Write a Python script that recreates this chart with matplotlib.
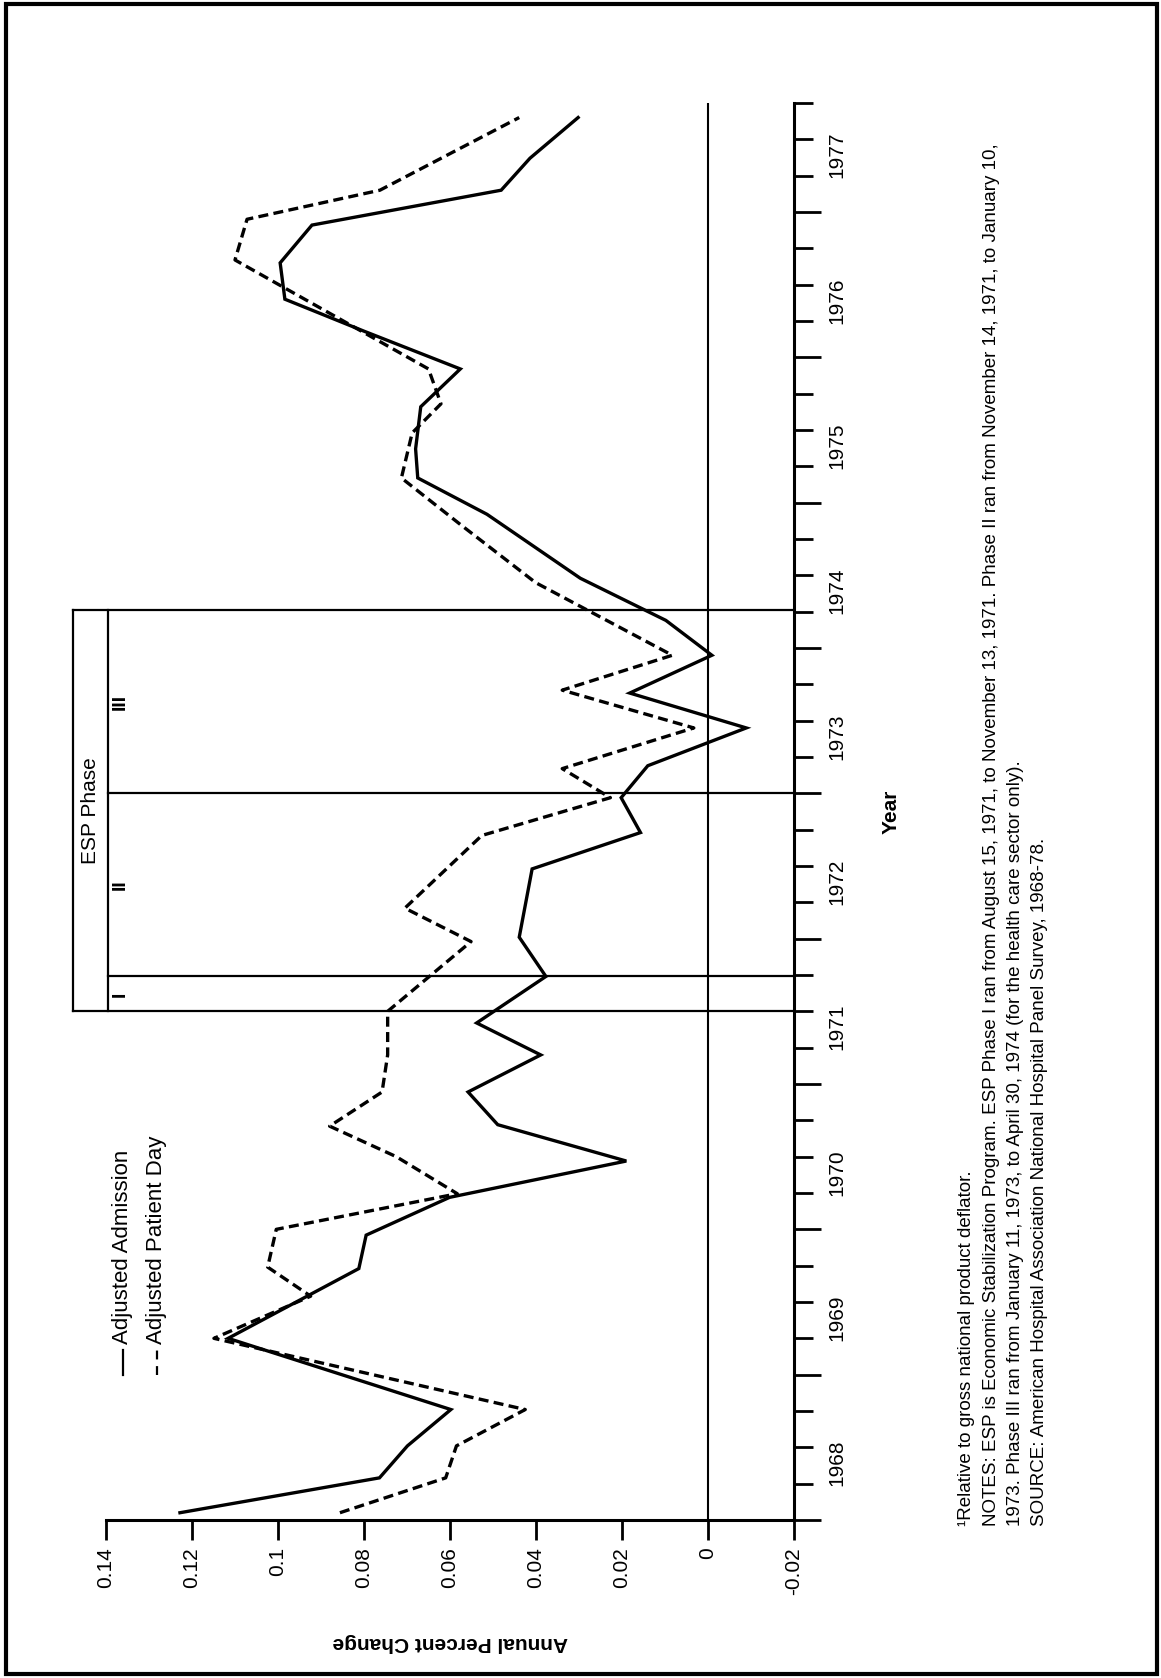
import matplotlib
matplotlib.use("Agg")
import matplotlib.pyplot as plt
import matplotlib.transforms as mtransforms
from matplotlib.ticker import FixedLocator, FuncFormatter, NullFormatter
from matplotlib.patches import Rectangle

plt.rcParams['font.family'] = ['Liberation Sans', 'DejaVu Sans']

# Adjusted Admission (solid)
adm_years = [1968.05, 1968.29, 1968.51, 1968.76, 1969.25, 1969.73, 1969.96, 1970.22,
             1970.47, 1970.72, 1970.945, 1971.20, 1971.42, 1971.74, 1972.01, 1972.48,
             1972.73, 1972.97, 1973.19, 1973.45, 1973.69, 1973.95, 1974.19, 1974.48,
             1974.92, 1975.17, 1975.37, 1975.66, 1975.92, 1976.18, 1976.40, 1976.65,
             1976.91, 1977.15, 1977.37, 1977.65]
adm_values = [0.1228, 0.0764, 0.0699, 0.0598, 0.1116, 0.0812, 0.0795, 0.0601,
              0.0190, 0.0489, 0.0558, 0.0389, 0.0538, 0.0377, 0.0439, 0.0409,
              0.0157, 0.0202, 0.0140, -0.0089, 0.0182, -0.0009, 0.0098, 0.0297,
              0.0514, 0.0675, 0.0680, 0.0668, 0.0576, 0.0800, 0.0984, 0.0995,
              0.0921, 0.0481, 0.0414, 0.0302]

# Adjusted Patient Day (dashed)
pd_years = [1968.05, 1968.29, 1968.51, 1968.76, 1969.25, 1969.54, 1969.74, 1970.00,
            1970.245, 1970.50, 1970.71, 1970.945, 1971.20, 1971.50, 1971.98, 1972.21,
            1972.71, 1972.97, 1973.17, 1973.45, 1973.71, 1973.95, 1974.45, 1974.85,
            1975.17, 1975.48, 1975.68, 1975.92, 1976.67, 1976.95, 1977.15, 1977.65]
pd_values = [0.0856, 0.0610, 0.0585, 0.0425, 0.1149, 0.0924, 0.1024, 0.1004,
             0.0583, 0.0725, 0.0880, 0.0758, 0.0745, 0.0745, 0.0551, 0.0705,
             0.0526, 0.0227, 0.0339, 0.0033, 0.0339, 0.0083, 0.0401, 0.0576,
             0.0713, 0.0688, 0.0621, 0.0650, 0.1100, 0.1072, 0.0763, 0.0439]

value_ticks = [0.14, 0.12, 0.1, 0.08, 0.06, 0.04, 0.02, 0, -0.02]
value_labels = ["0.14", "0.12", "0.1", "0.08", "0.06", "0.04", "0.02", "0", "-0.02"]
years = list(range(1968, 1978))

# ESP phase boundaries (start I, start II, start III, end)
esp_bounds = [1971.50, 1971.74, 1973.00, 1974.26]
esp_names = ["I", "II", "III"]

notes = [
    "\u00b9Relative to gross national product deflator.",
    "NOTES: ESP is Economic Stabilization Program. ESP Phase I ran from August 15, 1971, "
    "to November 13, 1971. Phase II ran from November 14, 1971, to January 10,",
    "1973. Phase III ran from January 11, 1973, to April 30, 1974 (for the health care sector only).",
    "SOURCE: American Hospital Association National Hospital Panel Survey, 1968-78.",
]

W, H = 1161, 1678
fig = plt.figure(figsize=(W / 100, H / 100), dpi=100)
ax = fig.add_axes([106 / W, 1 - 1520 / H, 688 / W, 1417 / H])

ax.plot(adm_values, adm_years, color="black", lw=2.4, solid_joinstyle="miter")
ax.plot(pd_values, pd_years, color="black", lw=2.4, linestyle=(0, (3.0, 1.6)))

ax.set_xlim(0.14, -0.02)
ax.set_ylim(1968.0, 1977.75)

ax.axvline(0, color="black", lw=1.5, zorder=1)

# ESP phase box
blend = mtransforms.blended_transform_factory(ax.transAxes, ax.transData)
x_out, x_in = -0.048, 0.003
for y in (esp_bounds[0], esp_bounds[-1]):
    ax.plot([x_out, 1], [y, y], color="black", lw=1.6, transform=blend, clip_on=False)
for y in esp_bounds[1:-1]:
    ax.plot([x_in, 1], [y, y], color="black", lw=1.6, transform=blend, clip_on=False)
for x in (x_out, x_in):
    ax.plot([x, x], [esp_bounds[0], esp_bounds[-1]], color="black", lw=1.6,
            transform=blend, clip_on=False)
ax.text((x_out + x_in) / 2, (esp_bounds[0] + esp_bounds[-1]) / 2, "ESP Phase",
        rotation=90, ha="center", va="center", fontsize=15, transform=blend)
for i, name in enumerate(esp_names):
    ax.text(0.021, (esp_bounds[i] + esp_bounds[i + 1]) / 2, name, rotation=90,
            ha="center", va="center", fontsize=14, fontweight="bold", transform=blend)

# legend drawn by hand (rotated)
ax.plot([0.025, 0.025], [0.102, 0.120], color="black", lw=1.6, transform=ax.transAxes)
ax.plot([0.074, 0.074], [0.102, 0.120], color="black", lw=1.6,
        linestyle=(0, (4, 3)), transform=ax.transAxes)
ax.text(0.024, 0.124, "Adjusted Admission", rotation=90, ha="center", va="bottom",
        fontsize=16, transform=ax.transAxes)
ax.text(0.073, 0.124, "Adjusted Patient Day", rotation=90, ha="center", va="bottom",
        fontsize=16, transform=ax.transAxes)

# axes styling
for s in ("top", "left"):
    ax.spines[s].set_visible(False)
for s in ("bottom", "right"):
    ax.spines[s].set_linewidth(2.2)

ax.set_xticks(value_ticks)
ax.set_xticklabels(value_labels, rotation=90, fontsize=15)
ax.tick_params(axis="x", direction="out", length=14.4, width=2, pad=5)

ax.yaxis.tick_right()
ax.yaxis.set_major_locator(FixedLocator(years))
ax.yaxis.set_major_formatter(NullFormatter())
quarters = [y + q for y in years for q in (0.25, 0.5, 0.75)]
ax.yaxis.set_minor_locator(FixedLocator(quarters))
ax.yaxis.set_minor_formatter(FuncFormatter(
    lambda v, p: str(int(v)) if abs(v % 1 - 0.5) < 1e-6 else ""))
ax.tick_params(axis="y", which="major", direction="out", length=19.5, width=2)
ax.tick_params(axis="y", which="minor", direction="out", length=13.7, width=2,
               labelright=True, labelleft=False, labelsize=15, labelrotation=90, pad=10)

ax.set_xlabel("Annual Percent Change", rotation=180, fontsize=15, fontweight="bold",
              labelpad=28)
ax.yaxis.set_label_position("right")
ax.set_ylabel("Year", rotation=90, fontsize=15, fontweight="bold", labelpad=26)

# notes at the side
note_x = [967, 991, 1015, 1040]
for x, line in zip(note_x, notes):
    fig.text(x / W, 1 - 1526 / H, line, rotation=90, ha="center", va="bottom",
             fontsize=13.5)

fig.add_artist(Rectangle((6 / W, 1 - 1674 / H), 1151 / W, 1670 / H,
                         transform=fig.transFigure, fill=False, lw=3, color="black"))

fig.savefig("out.png", dpi=100)
